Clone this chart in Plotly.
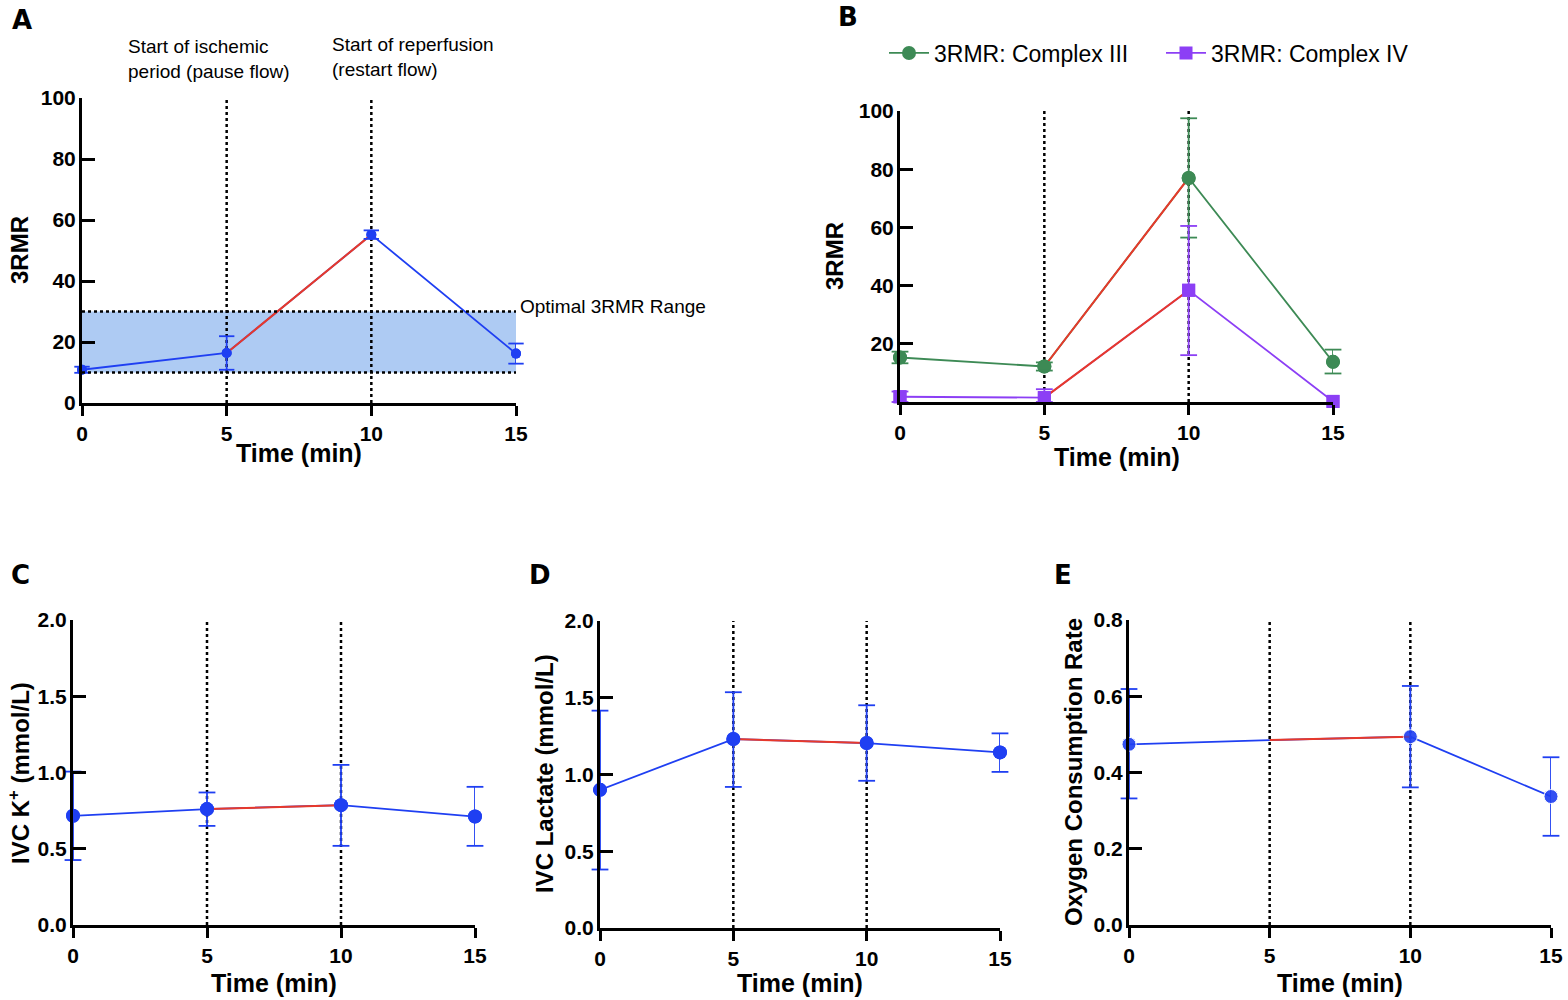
import plotly.graph_objects as go

# Data
# ~~~~~~~~~~~~~~~~~~~~~~~~~~~~~~~~~~~~~~~~~~~~~~~~~~~~~~~~~~~~~~~~~~~~~~~~~~~~~~~~~~~~~~~~
time = [0, 5, 10, 15]
time_ticks = [0, 5, 10, 15]

# A: 3RMR
rmr = [10.9, 16.4, 55.2, 16.2]
rmr_up = [1.0, 5.5, 1.4, 3.3]
rmr_down = [1.0, 5.5, 1.4, 3.3]
optimal_range = [10, 30]

# B: Complex III / IV
c3 = [15.3, 12.2, 77.0, 13.8]
c3_up = [2.0, 1.4, 20.5, 4.2]
c3_down = [2.0, 1.4, 20.5, 4.0]
c4 = [1.8, 1.5, 38.4, 0.2]
c4_up = [1.8, 2.9, 22.1, 0.0]
c4_down = [1.8, 1.5, 22.3, 0.0]

# C: IVC K+
k = [0.716, 0.76, 0.786, 0.711]
k_up = [0.29, 0.109, 0.264, 0.195]
k_down = [0.29, 0.11, 0.267, 0.192]

# D: IVC lactate
lac = [0.90, 1.231, 1.205, 1.144]
lac_up = [0.516, 0.305, 0.246, 0.124]
lac_down = [0.519, 0.312, 0.246, 0.127]

# E: oxygen consumption rate (no sample at 5 min)
ocr = [0.474, 0.485, 0.494, 0.337]
ocr_up = [0.145, None, 0.133, 0.103]
ocr_down = [0.142, None, 0.133, 0.103]
ocr_marker = [14, 0, 14, 14]

# Style
# ~~~~~~~~~~~~~~~~~~~~~~~~~~~~~~~~~~~~~~~~~~~~~~~~~~~~~~~~~~~~~~~~~~~~~~~~~~~~~~~~~~~~~~~~
BLUE = "#1f3ff2"
RED = "#e8392a"
GREEN = "#3d8a55"
PURPLE = "#8c3ff5"
FONT = "Liberation Sans"

# body margin is removed in the page (post_script), so screen px == figure px
W, H = 1568, 1000


def sx(px):
    return px / W


def sy(py):
    return 1 - py / H


fig = go.Figure()


def add_series(n, y, up, down, colour, name=None, size=14, symbol="circle", legend=False,
               cap=12):
    xa, ya = f"x{n}", f"y{n}"
    up0 = [u or 0 for u in up]
    down0 = [d or 0 for d in down]
    # full line in series colour
    fig.add_trace(go.Scatter(
        x=time, y=y, mode="lines+markers", xaxis=xa, yaxis=ya,
        line=dict(color=colour, width=1.8),
        marker=dict(color=colour, size=size, symbol=symbol),
        name=name, showlegend=legend, cliponaxis=False,
    ))
    # ischemic period in red
    fig.add_trace(go.Scatter(
        x=time[1:3], y=y[1:3], mode="lines", xaxis=xa, yaxis=ya,
        line=dict(color=RED, width=2), showlegend=False, cliponaxis=False,
    ))
    # markers + error stems on top
    fig.add_trace(go.Scatter(
        x=time, y=y, mode="markers", xaxis=xa, yaxis=ya,
        marker=dict(color=colour, size=size, symbol=symbol),
        error_y=dict(type="data", array=up0, arrayminus=down0, color=colour,
                     thickness=1.8, width=0),
        showlegend=False, cliponaxis=False,
    ))
    # error caps as markers so they are not clipped at the axis edge
    cx, cy = [], []
    for t, v, u, d in zip(time, y, up, down):
        if u:
            cx.append(t)
            cy.append(v + u)
        if d:
            cx.append(t)
            cy.append(v - d)
    fig.add_trace(go.Scatter(
        x=cx, y=cy, mode="markers", xaxis=xa, yaxis=ya,
        marker=dict(symbol="line-ew", size=cap, line=dict(color=colour, width=1.8)),
        showlegend=False, cliponaxis=False, hoverinfo="skip",
    ))


add_series(1, rmr, rmr_up, rmr_down, BLUE, size=10, cap=11)
add_series(2, c3, c3_up, c3_down, GREEN, name="3RMR: Complex III", size=14, legend=True)
add_series(2, c4, c4_up, c4_down, PURPLE, name="3RMR: Complex IV", size=13,
           symbol="square", legend=True)
add_series(3, k, k_up, k_down, BLUE)
add_series(4, lac, lac_up, lac_down, BLUE)
add_series(5, ocr, ocr_up, ocr_down, BLUE, size=ocr_marker)

# Axes (pixel boxes)
# ~~~~~~~~~~~~~~~~~~~~~~~~~~~~~~~~~~~~~~~~~~~~~~~~~~~~~~~~~~~~~~~~~~~~~~~~~~~~~~~~~~~~~~~~
panels = [
    # left, right, top, bottom, y range, y ticks, y title, (title x, title y), x title y
    (82, 516, 98, 403, [0, 100], [0, 20, 40, 60, 80, 100], "3RMR", (19, 250), 453),
    (900, 1333, 111, 402, [0, 100], [20, 40, 60, 80, 100], "3RMR", (834, 256), 457),
    (73, 475, 620, 925, [0, 2.0], [0, 0.5, 1.0, 1.5, 2.0],
     "IVC K<sup>+</sup> (mmol/L)", (19, 773), 983),
    (600, 1000, 621, 928, [0, 2.0], [0, 0.5, 1.0, 1.5, 2.0],
     "IVC Lactate (mmol/L)", (544, 774), 983),
    (1129, 1551, 620, 925, [0, 0.8], [0, 0.2, 0.4, 0.6, 0.8],
     "Oxygen Consumption Rate", (1073, 772), 983),
]

tickfont = dict(family=FONT, size=21, color="black", weight="bold")
line_common = dict(showline=True, linecolor="black", linewidth=3, tickwidth=3,
                   tickcolor="black", showgrid=False, zeroline=False, automargin=False,
                   tickfont=tickfont)
title_font = dict(family=FONT, size=25, color="black", weight="bold")
ytitle_font = dict(family=FONT, size=24, color="black", weight="bold")

layout_axes = {}
for i, (l, r, t, b, yr, yt, ytitle, (tx, ty), xty) in enumerate(panels, start=1):
    sfx = "" if i == 1 else str(i)
    layout_axes[f"xaxis{sfx}"] = dict(
        line_common, domain=[sx(l), sx(r)], range=[0, 15], anchor=f"y{i}",
        tickvals=time_ticks, ticks="outside", ticklen=10, ticklabelstandoff=0,
    )
    fmt = ".1f" if yr[1] < 5 else "d"
    layout_axes[f"yaxis{sfx}"] = dict(
        line_common, domain=[sy(b), sy(t)], range=yr, anchor=f"x{i}",
        tickvals=yt, tickformat=fmt, ticks="inside", ticklen=13, ticklabelstandoff=-1,
    )
    fig.add_annotation(xref="paper", yref="paper", x=sx(tx), y=sy(ty), textangle=-90,
                       xanchor="center", yanchor="middle", showarrow=False,
                       text=ytitle, font=ytitle_font)
    fig.add_annotation(xref="paper", yref="paper", x=sx((l + r) / 2), y=sy(xty),
                       xanchor="center", yanchor="middle", showarrow=False,
                       text="Time (min)", font=title_font)

fig.update_layout(**layout_axes)

# Reference lines and bands
# ~~~~~~~~~~~~~~~~~~~~~~~~~~~~~~~~~~~~~~~~~~~~~~~~~~~~~~~~~~~~~~~~~~~~~~~~~~~~~~~~~~~~~~~~
fig.add_shape(type="rect", xref="x", yref="y", x0=0, x1=15,
              y0=optimal_range[0], y1=optimal_range[1],
              fillcolor="#aecbf3", line_width=0, layer="below")
for yv in optimal_range:
    fig.add_shape(type="line", xref="x", yref="y", x0=0, x1=15, y0=yv, y1=yv,
                  line=dict(color="black", width=2.5, dash="dot"))

for i, p in enumerate(panels, start=1):
    yr = p[4]
    for xv in [5, 10]:
        fig.add_shape(type="line", xref=f"x{i}", yref=f"y{i}", x0=xv, x1=xv,
                      y0=yr[0], y1=yr[1], layer="below",
                      line=dict(color="black", width=2.5, dash="dot"))

# Text
# ~~~~~~~~~~~~~~~~~~~~~~~~~~~~~~~~~~~~~~~~~~~~~~~~~~~~~~~~~~~~~~~~~~~~~~~~~~~~~~~~~~~~~~~~
note_font = dict(family=FONT, size=19, color="black")
fig.add_annotation(xref="paper", yref="paper", x=sx(126), y=sy(34),
                   xanchor="left", yanchor="top", align="left", showarrow=False,
                   text="Start of ischemic<br>period (pause flow)", font=note_font)
fig.add_annotation(xref="paper", yref="paper", x=sx(330), y=sy(32),
                   xanchor="left", yanchor="top", align="left", showarrow=False,
                   text="Start of reperfusion<br>(restart flow)", font=note_font)
fig.add_annotation(xref="paper", yref="y", x=sx(518), y=optimal_range[1] + 1.5,
                   xanchor="left", yanchor="middle", showarrow=False,
                   text="Optimal 3RMR Range", font=note_font)

letter_font = dict(family="DejaVu Sans", size=26, color="black", weight="bold")
for letter, lx, ly in [("A", 22, 20), ("B", 848, 17), ("C", 20, 575),
                       ("D", 540, 575), ("E", 1063, 575)]:
    fig.add_annotation(xref="paper", yref="paper", x=sx(lx), y=sy(ly),
                       xanchor="center", yanchor="middle", showarrow=False,
                       text=letter, font=letter_font)

fig.update_layout(
    width=W, height=H,
    margin=dict(l=0, r=0, t=0, b=0),
    paper_bgcolor="white", plot_bgcolor="white",
    showlegend=True,
    legend=dict(orientation="h", x=sx(884), y=sy(53), xanchor="left",
                yanchor="middle", font=dict(family=FONT, size=23, color="black"),
                itemwidth=40, entrywidth=222, bgcolor="rgba(0,0,0,0)"),
)

fig.write_html("out.html",
               config={"displayModeBar": False},
               post_script="document.body.style.margin='0';"
                           "document.body.style.overflow='hidden';")
